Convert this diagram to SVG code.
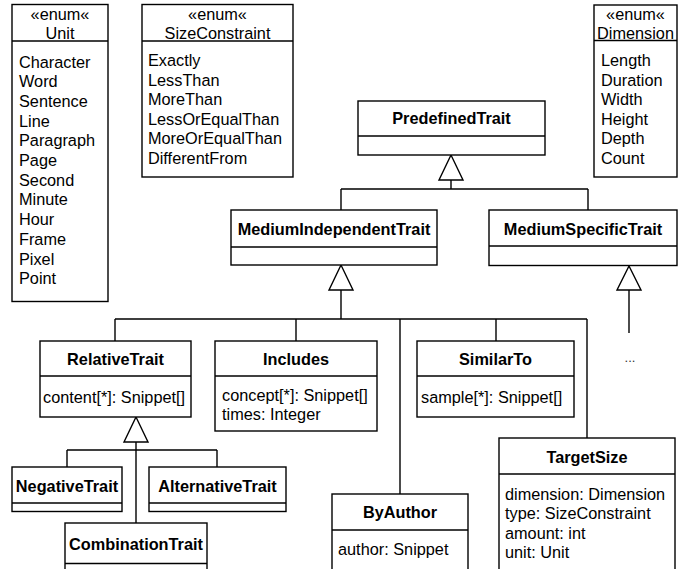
<svg xmlns="http://www.w3.org/2000/svg" width="684" height="569" viewBox="0 0 684 569">
<style>
.box{fill:#fff;stroke:#000;stroke-width:1.4}
.ln{fill:none;stroke:#000;stroke-width:1.4}
.tri{fill:#fff;stroke:#000;stroke-width:1.4;stroke-linejoin:miter}
text{font-family:"Liberation Sans",Arial,Helvetica,sans-serif;font-size:16.3px;fill:#000}
.t{font-weight:bold;text-anchor:middle}
.c{text-anchor:middle}
</style>
<rect width="684" height="569" fill="#fff"/>

<g id="connectors">
  <!-- PredefinedTrait generalization -->
  <path class="ln" d="M451,180 V189 M341,189 H588 M341,189 V210 M588,189 V210"/>
  <polygon class="tri" points="451,155 439,180 463,180"/>
  <!-- MediumIndependentTrait generalization -->
  <path class="ln" d="M341,290 V319 M115,319 H587 M115,319 V341 M296,319 V341 M400,319 V494 M496,319 V341 M587,319 V438"/>
  <polygon class="tri" points="341,265 329,290 353,290"/>
  <!-- MediumSpecificTrait generalization -->
  <path class="ln" d="M629,290 V333"/>
  <polygon class="tri" points="629,266 617,290 641,290"/>
  <!-- RelativeTrait generalization -->
  <path class="ln" d="M136,442 V523 M67,450 H217 M67,450 V467 M217,450 V467"/>
  <polygon class="tri" points="136,417 124,442 148,442"/>
</g>

<g id="Unit">
  <rect class="box" x="12" y="4.5" width="96" height="297"/>
  <line class="ln" x1="12" y1="41" x2="108" y2="41"/>
  <text class="c" x="60" y="19.5">«enum«</text>
  <text class="c" x="60" y="38.5">Unit</text>
  <text x="19" y="67.5">Character</text>
  <text x="19" y="87.2">Word</text>
  <text x="19" y="106.9">Sentence</text>
  <text x="19" y="126.6">Line</text>
  <text x="19" y="146.3">Paragraph</text>
  <text x="19" y="166">Page</text>
  <text x="19" y="185.7">Second</text>
  <text x="19" y="205.4">Minute</text>
  <text x="19" y="225.1">Hour</text>
  <text x="19" y="244.8">Frame</text>
  <text x="19" y="264.5">Pixel</text>
  <text x="19" y="284.2">Point</text>
</g>

<g id="SizeConstraint">
  <rect class="box" x="142" y="4.5" width="151" height="172.5"/>
  <line class="ln" x1="142" y1="41" x2="293" y2="41"/>
  <text class="c" x="217.5" y="19.5">«enum«</text>
  <text class="c" x="217.5" y="38.5">SizeConstraint</text>
  <text x="148" y="66">Exactly</text>
  <text x="148" y="85.5">LessThan</text>
  <text x="148" y="105">MoreThan</text>
  <text x="148" y="124.5">LessOrEqualThan</text>
  <text x="148" y="144">MoreOrEqualThan</text>
  <text x="148" y="163.5">DifferentFrom</text>
</g>

<g id="Dimension">
  <rect class="box" x="594" y="5" width="83" height="172"/>
  <line class="ln" x1="594" y1="40.5" x2="677" y2="40.5"/>
  <text class="c" x="635.5" y="19.5">«enum«</text>
  <text class="c" x="635.5" y="38.5">Dimension</text>
  <text x="601" y="66">Length</text>
  <text x="601" y="85.5">Duration</text>
  <text x="601" y="105">Width</text>
  <text x="601" y="124.5">Height</text>
  <text x="601" y="144">Depth</text>
  <text x="601" y="163.5">Count</text>
</g>

<g id="PredefinedTrait">
  <rect class="box" x="358" y="101" width="187" height="54"/>
  <line class="ln" x1="358" y1="136" x2="545" y2="136"/>
  <text class="t" x="451.5" y="124">PredefinedTrait</text>
</g>

<g id="MediumIndependentTrait">
  <rect class="box" x="231" y="210" width="206" height="55"/>
  <line class="ln" x1="231" y1="247" x2="437" y2="247"/>
  <text class="t" x="334" y="235">MediumIndependentTrait</text>
</g>

<g id="MediumSpecificTrait">
  <rect class="box" x="489" y="210" width="188" height="55.5"/>
  <line class="ln" x1="489" y1="246" x2="677" y2="246"/>
  <text class="t" x="583" y="235">MediumSpecificTrait</text>
</g>

<g id="ellipsis">
  <text class="c" x="630" y="362" style="font-size:13px;fill:#333">...</text>
</g>

<g id="RelativeTrait">
  <rect class="box" x="40" y="341" width="151" height="76"/>
  <line class="ln" x1="40" y1="376" x2="191" y2="376"/>
  <text class="t" x="115.5" y="365">RelativeTrait</text>
  <text x="43" y="402.5">content[*]: Snippet[]</text>
</g>

<g id="Includes">
  <rect class="box" x="215" y="341" width="162" height="90"/>
  <line class="ln" x1="215" y1="376" x2="377" y2="376"/>
  <text class="t" x="296" y="365">Includes</text>
  <text x="222" y="400.5">concept[*]: Snippet[]</text>
  <text x="222" y="420.2">times: Integer</text>
</g>

<g id="SimilarTo">
  <rect class="box" x="417" y="341" width="157" height="76"/>
  <line class="ln" x1="417" y1="376" x2="574" y2="376"/>
  <text class="t" x="495.5" y="365">SimilarTo</text>
  <text x="421" y="403">sample[*]: Snippet[]</text>
</g>

<g id="NegativeTrait">
  <rect class="box" x="12" y="467" width="110" height="44.5"/>
  <line class="ln" x1="12" y1="503" x2="122" y2="503"/>
  <text class="t" x="67" y="492">NegativeTrait</text>
</g>

<g id="AlternativeTrait">
  <rect class="box" x="149" y="467" width="137" height="44.5"/>
  <line class="ln" x1="149" y1="503" x2="286" y2="503"/>
  <text class="t" x="217.5" y="492">AlternativeTrait</text>
</g>

<g id="CombinationTrait">
  <rect class="box" x="65" y="523" width="142" height="60"/>
  <line class="ln" x1="65" y1="563.5" x2="207" y2="563.5"/>
  <text class="t" x="136" y="549.5">CombinationTrait</text>
</g>

<g id="ByAuthor">
  <rect class="box" x="332" y="494" width="136" height="90"/>
  <line class="ln" x1="332" y1="530" x2="468" y2="530"/>
  <text class="t" x="400" y="518">ByAuthor</text>
  <text x="338" y="554.5">author: Snippet</text>
</g>

<g id="TargetSize">
  <rect class="box" x="499" y="438" width="176" height="150"/>
  <line class="ln" x1="499" y1="474" x2="675" y2="474"/>
  <text class="t" x="587" y="462.5">TargetSize</text>
  <text x="505" y="499.5">dimension: Dimension</text>
  <text x="505" y="519">type: SizeConstraint</text>
  <text x="505" y="538.5">amount: int</text>
  <text x="505" y="558">unit: Unit</text>
</g>
</svg>
